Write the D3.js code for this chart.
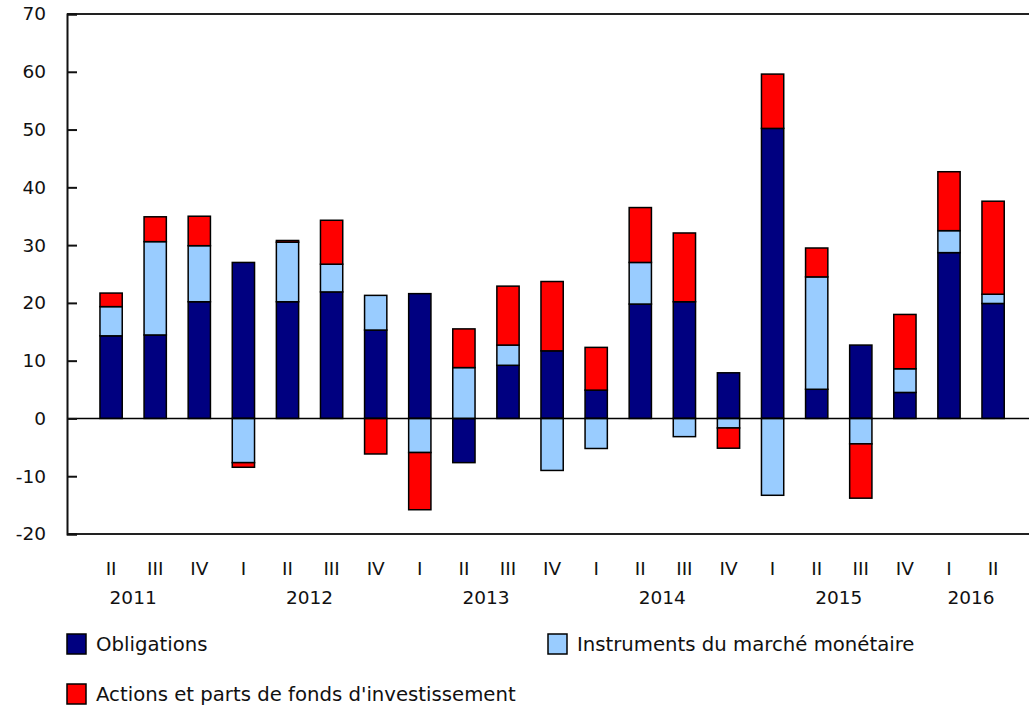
<!DOCTYPE html>
<html>
<head>
<meta charset="utf-8">
<script src="https://cdn.jsdelivr.net/npm/d3@7"></script>
<style>
  body { margin: 0; background: #fff; }
  text { font-family: Verdana, "DejaVu Sans", sans-serif; fill: #111; }
</style>
</head>
<body>
<div id="plot"></div>
<script>
// Quarterly values (billions)
const quarters = ["II","III","IV","I","II","III","IV","I","II","III","IV","I","II","III","IV","I","II","III","IV","I","II"];
const quarterYears = [2011,2011,2011,2012,2012,2012,2012,2013,2013,2013,2013,2014,2014,2014,2014,2015,2015,2015,2015,2016,2016];
const years = ["2011","2012","2013","2014","2015","2016"];
const obligations = [14.3,14.45,20.2,27.0,20.2,21.9,15.3,21.6,-7.65,9.2,11.7,4.9,19.8,20.2,7.9,50.2,5.05,12.7,4.5,28.7,19.9];
const monetaire = [5.05,16.15,9.7,-7.65,10.3,4.8,6.0,-5.9,8.8,3.5,-9.0,-5.2,7.2,-3.15,-1.65,-13.3,19.45,-4.4,4.1,3.8,1.6];
const actions = [2.35,4.3,5.1,-0.8,0.3,7.6,-6.15,-9.9,6.7,10.2,12.0,7.4,9.5,11.9,-3.5,9.4,5.0,-9.4,9.4,10.2,16.1];
const seriesNames = ["Obligations", "Instruments du marché monétaire", "Actions et parts de fonds d'investissement"];
const colors = ["#000080", "#99ccff", "#ff0000"];
const yTicks = [-20,-10,0,10,20,30,40,50,60,70];

const W = 1029, H = 707;
const plotLeft = 67, plotTop = 14, plotBottom = 534;

const svg = d3.select("#plot")
    .append("svg")
    .attr("width", W)
    .attr("height", H);

const rows = quarters.map((q, i) => ({
    idx: i,
    s0: obligations[i],
    s1: monetaire[i],
    s2: actions[i]
}));

const x = d3.scaleBand()
    .domain(rows.map(d => d.idx))
    .range([plotLeft, plotLeft + 22 * 44.1])
    .paddingInner(0.495)
    .paddingOuter(0.7475);

const y = d3.scaleLinear()
    .domain([-20, 70])
    .range([plotBottom, plotTop]);

const stack = d3.stack()
    .keys(["s0", "s1", "s2"])
    .offset(d3.stackOffsetDiverging);

const stacked = stack(rows);

// bars
svg.append("g")
    .selectAll("g")
    .data(stacked)
    .join("g")
    .attr("fill", (d, i) => colors[i])
    .selectAll("rect")
    .data(d => d)
    .join("rect")
    .attr("x", d => x(d.data.idx))
    .attr("width", x.bandwidth())
    .attr("y", d => y(Math.max(d[0], d[1])))
    .attr("height", d => Math.abs(y(d[0]) - y(d[1])))
    .attr("stroke", "#000")
    .attr("stroke-width", 1.5);

// frame lines
svg.append("line")
    .attr("x1", plotLeft).attr("x2", W)
    .attr("y1", y(70)).attr("y2", y(70))
    .attr("stroke", "#222").attr("stroke-width", 2);
svg.append("line")
    .attr("x1", plotLeft).attr("x2", W)
    .attr("y1", y(-20)).attr("y2", y(-20))
    .attr("stroke", "#222").attr("stroke-width", 2);
svg.append("line")
    .attr("x1", plotLeft).attr("x2", W)
    .attr("y1", y(0)).attr("y2", y(0))
    .attr("stroke", "#000").attr("stroke-width", 1.5);

// y axis with inward ticks (plain hyphen for negatives)
const yAxis = svg.append("g")
    .attr("transform", `translate(${plotLeft},0)`)
    .call(d3.axisRight(y).tickValues(yTicks).tickSize(10).tickFormat(d => String(d)));
yAxis.select(".domain").attr("stroke", "#111").attr("stroke-width", 2);
yAxis.selectAll(".tick line").attr("stroke", "#111").attr("stroke-width", 2);
yAxis.selectAll(".tick text")
    .attr("x", -21)
    .attr("text-anchor", "end")
    .attr("font-size", "18.5px")
    .attr("font-family", "Verdana, 'DejaVu Sans', sans-serif");

// quarter labels
svg.append("g")
    .selectAll("text")
    .data(rows)
    .join("text")
    .attr("x", d => x(d.idx) + x.bandwidth() / 2)
    .attr("y", 575)
    .attr("text-anchor", "middle")
    .attr("font-size", "18.5px")
    .text(d => quarters[d.idx]);

// year labels: centred from quarter I of the year (even if missing) to last quarter shown
const qNum = { I: 0, II: 1, III: 2, IV: 3 };
const step = x.step();
const c0 = x(0) + x.bandwidth() / 2;
svg.append("g")
    .selectAll("text")
    .data(years)
    .join("text")
    .attr("x", yr => {
        const idxs = rows.filter(d => quarterYears[d.idx] === +yr).map(d => d.idx);
        const first = idxs[0] - qNum[quarters[idxs[0]]];
        const last = idxs[idxs.length - 1];
        return c0 + step * (first + last) / 2;
    })
    .attr("y", 604)
    .attr("text-anchor", "middle")
    .attr("font-size", "18.5px")
    .text(d => d);

// legend
const legendPos = [[67, 634], [548, 634], [67, 684]];
const legend = svg.append("g")
    .selectAll("g")
    .data(seriesNames)
    .join("g")
    .attr("transform", (d, i) => `translate(${legendPos[i][0]},${legendPos[i][1]})`);
legend.append("rect")
    .attr("width", 19).attr("height", 20)
    .attr("fill", (d, i) => colors[i])
    .attr("stroke", "#000").attr("stroke-width", 1.5);
legend.append("text")
    .attr("x", 29)
    .attr("y", 17)
    .attr("font-size", "19.7px")
    .text(d => d);
</script>
</body>
</html>
